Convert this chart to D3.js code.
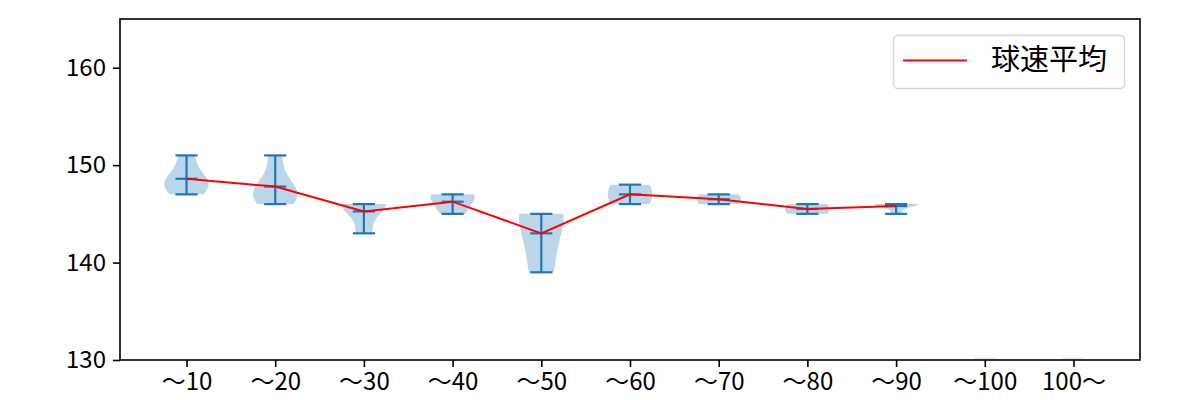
<!DOCTYPE html>
<html>
<head>
<meta charset="utf-8">
<script src="https://cdn.jsdelivr.net/npm/d3@7"></script>
<style>
  html, body { margin: 0; padding: 0; background: #fff; }
  svg { display: block; }
  text { font-family: "Noto Sans CJK JP", "Noto Sans", sans-serif; fill: #000; }
</style>
</head>
<body>
<svg id="chart" width="1200" height="400"></svg>
<script>
// ---- data ----
const categories = ["～10", "～20", "～30", "～40", "～50", "～60", "～70", "～80", "～90", "～100", "100～"];
const speedSamples = [
  [147, 148, 148, 149, 151],
  [146, 147, 147, 148, 151],
  [143, 146, 146, 146],
  [145, 146, 147, 147],
  [139, 145, 145],
  [146, 148],
  [146, 147],
  [145, 146],
  [145, 146, 146, 146, 146],
  [],
  []
];
const yTicks = [130, 140, 150, 160];
const legendLabel = "球速平均";

// ---- layout ----
const W = 1200, H = 400;
const L = 120, R = 1140, T = 19, B = 360;
const svg = d3.select("#chart");

const x = d3.scaleLinear().domain([0.25, categories.length + 0.75]).range([L, R]);
const y = d3.scaleLinear().domain([130, 165]).range([B, T]);

const blue = "#1f77b4";

svg.append("defs").append("clipPath").attr("id", "plotclip")
  .append("rect").attr("x", L).attr("y", T).attr("width", R - L).attr("height", B - T);

const plot = svg.append("g").attr("clip-path", "url(#plotclip)");

// gaussian KDE (Scott's rule), like matplotlib
function kde(arr, points) {
  const n = arr.length;
  const mean = d3.mean(arr);
  const v = d3.sum(arr, d => (d - mean) ** 2) / (n - 1);
  const bw = Math.sqrt(v) * Math.pow(n, -0.2);
  const lo = d3.min(arr), hi = d3.max(arr);
  const out = [];
  for (let i = 0; i < points; i++) {
    const c = lo + (hi - lo) * i / (points - 1);
    const d = d3.sum(arr, xi => Math.exp(-((c - xi) ** 2) / (2 * bw * bw)));
    out.push([c, d]);
  }
  return out;
}

const means = [];
speedSamples.forEach((s, i) => {
  const pos = i + 1;
  if (s.length < 2) {
    // empty category: faint cap remnants at the bottom edge
    plot.append("line")
      .attr("x1", x(pos - 0.125)).attr("x2", x(pos + 0.125))
      .attr("y1", y(130) - 1.5).attr("y2", y(130) - 1.5)
      .attr("stroke", blue).attr("stroke-opacity", 0.15).attr("stroke-width", 1.5);
    return;
  }
  const dens = kde(s, 100);
  const mx = d3.max(dens, d => d[1]);
  const area = d3.area()
    .y(d => y(d[0]))
    .x0(d => x(pos - 0.25 * d[1] / mx))
    .x1(d => x(pos + 0.25 * d[1] / mx));
  plot.append("path").attr("d", area(dens))
    .attr("fill", blue).attr("fill-opacity", 0.3).attr("stroke", "none");

  const lo = d3.min(s), hi = d3.max(s), m = d3.mean(s);
  means.push([pos, m]);
  const g = plot.append("g").attr("stroke", blue).attr("stroke-width", 2.2);
  g.append("line").attr("x1", x(pos)).attr("x2", x(pos)).attr("y1", y(lo)).attr("y2", y(hi));
  [lo, hi, m].forEach(v => {
    g.append("line").attr("x1", x(pos - 0.125)).attr("x2", x(pos + 0.125))
      .attr("y1", y(v)).attr("y2", y(v));
  });
});

// mean line
plot.append("path")
  .attr("d", d3.line().x(d => x(d[0])).y(d => y(d[1]))(means))
  .attr("fill", "none").attr("stroke", "#ff0000").attr("stroke-width", 2);

// axes
const yAxis = d3.axisLeft(y).tickValues(yTicks).tickSize(7).tickPadding(7).tickFormat(d3.format("d"));
const gy = svg.append("g").attr("transform", `translate(${L},0)`).call(yAxis);
gy.select(".domain").remove();
gy.selectAll("line").attr("stroke", "#000").attr("stroke-width", 1.6);
gy.selectAll("text").attr("font-size", 24).attr("font-family", "Noto Sans CJK JP");

const xAxis = d3.axisBottom(x).tickValues(d3.range(1, categories.length + 1))
  .tickSize(7).tickPadding(6).tickFormat(d => categories[d - 1]);
const gx = svg.append("g").attr("transform", `translate(0,${B})`).call(xAxis);
gx.select(".domain").remove();
gx.selectAll("line").attr("stroke", "#000").attr("stroke-width", 1.6);
gx.selectAll("text").attr("font-size", 24).attr("font-family", "Noto Sans CJK JP");

// frame
svg.append("rect").attr("x", L).attr("y", T).attr("width", R - L).attr("height", B - T)
  .attr("fill", "none").attr("stroke", "#000").attr("stroke-width", 1.6);

// legend
const lg = svg.append("g");
lg.append("rect").attr("x", 893.5).attr("y", 35.5).attr("width", 231).attr("height", 53).attr("rx", 4)
  .attr("fill", "#fff").attr("fill-opacity", 0.8).attr("stroke", "#d6d6d6").attr("stroke-width", 1.5);
lg.append("line").attr("x1", 903).attr("x2", 967).attr("y1", 60.5).attr("y2", 60.5)
  .attr("stroke", "#ff0000").attr("stroke-width", 2);
lg.append("text").attr("x", 991).attr("y", 70).attr("font-size", 29).text(legendLabel);
</script>
</body>
</html>
